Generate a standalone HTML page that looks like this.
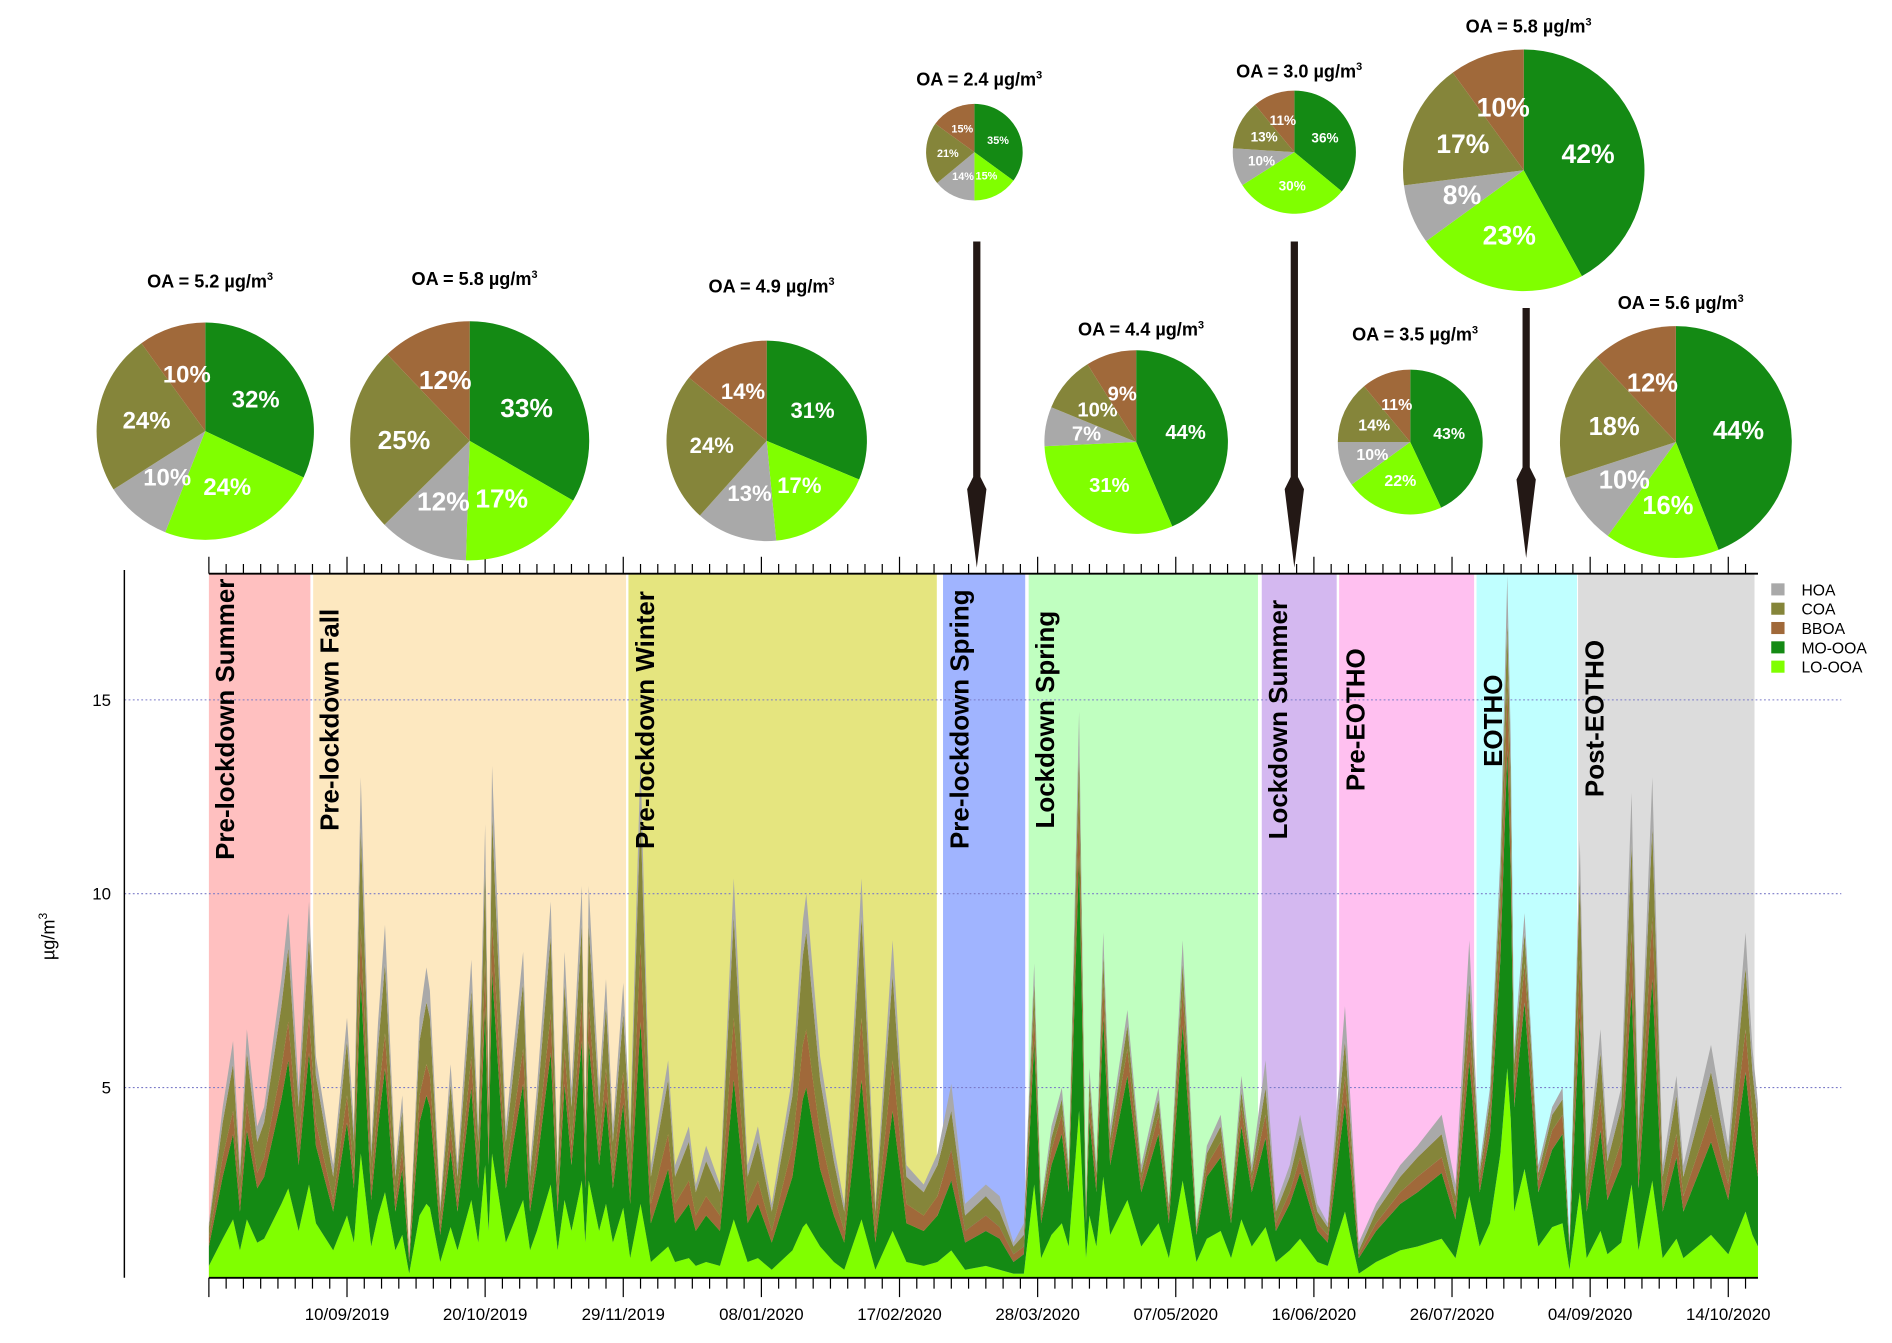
<!DOCTYPE html>
<html><head><meta charset="utf-8"><style>
html,body{margin:0;padding:0;background:#fff;}
svg{display:block;font-family:"Liberation Sans",Arial,sans-serif;}
</style></head><body>
<svg id="chart" width="1892" height="1343" viewBox="0 0 1567 1112" preserveAspectRatio="none" xmlns="http://www.w3.org/2000/svg">
<g id="bg"></g><g id="grid"></g><g id="areas"></g><g id="axes"></g><g id="plabels"></g><g id="pies"></g><g id="arrows"></g><g id="legend"></g>
</svg>
<script>
// ---- time series data (days since 01/08/2019) ----
const days=[0,4,7,9,11,14,16,21,23,26,29,31,36,40,42,44,47,49,51,54,56,58,61,63,64,67,70,72,76,78,80,81,82,86,91,93,95,99,101,103,105,108,109,110,113,115,117,120,
122,125,128,133,135,139,141,144,148,152,156,159,163,169,172,173,177,181,184,189,193,198,202,207,211,
215,219,225,229,233,236,
239,241,244,247,249,252,254,255,257,259,261,266,270,275,278,282,286,289,293,296,299,302,
306,309,313,316,321,324,329,333,338,345,350,357,361,365,
368,371,374,376,377,378,381,385,389,392,394,
397,399,403,405,409,412,414,418,421,425,427,435,440,445,447,449];
const loOOA=[.4,1.1,1.6,.8,1.6,1.0,1.1,2.0,2.4,1.3,2.5,1.5,.8,1.7,1.0,3.3,.9,1.7,2.3,.8,1.2,.2,1.7,2.0,1.9,.5,1.4,.8,2.1,1.0,3.0,1.3,3.3,1.0,2.1,.8,1.3,2.5,.8,2.1,1.3,2.6,1.0,2.6,1.3,2.0,1.0,1.9,
.6,2.0,.5,.9,.5,.6,.4,.5,.4,1.6,.5,.6,.3,.8,1.4,1.5,.9,.5,.3,1.6,.3,1.3,.5,.4,.5,
.8,.3,.4,.3,.2,.2,
2.5,.6,1.2,1.5,.9,4.4,.6,1.7,.9,2.7,1.2,2.1,.9,1.5,.6,2.6,.5,1.1,1.3,.6,1.6,.9,
1.4,.5,.8,1.1,.5,.4,1.8,.2,.5,.8,.9,1.1,.6,2.2,
.9,1.5,3.3,5.5,4.2,1.8,2.9,.9,1.4,1.5,.3,
2.3,.6,1.3,.7,1.0,2.5,.8,2.6,.6,1.1,.6,1.2,.7,1.8,1.2,.9];
const moOOA=[.5,1.6,2.2,1.0,2.3,1.4,1.6,2.7,3.3,1.7,3.4,2.0,1.0,2.4,1.4,4.5,1.2,2.3,3.2,1.0,1.7,.3,2.4,2.8,2.6,.7,2.0,1.0,2.9,1.4,4.1,1.7,4.7,1.4,3.0,1.0,1.7,3.4,1.0,3.0,1.7,3.6,1.4,3.6,1.7,2.7,1.4,2.7,
1.4,4.7,1.0,2.0,1.0,1.4,.9,1.2,.9,3.6,1.0,1.4,.7,1.9,3.3,3.5,2.0,1.2,.7,3.6,.7,3.1,1.0,.9,1.2,
1.8,.7,.9,.8,.3,.5,
3.7,.9,1.8,2.3,1.4,6.6,.9,2.5,1.4,4.1,1.8,3.2,1.4,2.3,.9,4.0,.7,1.6,1.9,.9,2.4,1.4,
2.3,.8,1.2,1.7,.8,.6,2.8,.4,.8,1.2,1.4,1.7,1.0,3.5,
1.4,2.3,5.0,8.2,6.3,2.7,4.3,1.4,2.0,2.3,.5,
4.6,1.2,2.6,1.4,2.0,5.0,1.6,5.2,1.2,2.1,1.2,2.4,1.4,3.6,2.4,1.8];
const bboa=[.2,.5,.6,.3,.7,.4,.5,.8,1.0,.5,1.0,.6,.3,.7,.4,1.3,.4,.7,.9,.3,.5,.1,.7,.8,.8,.2,.6,.3,.8,.4,1.2,.5,1.3,.4,.9,.3,.5,1.0,.3,.9,.5,1.0,.4,1.0,.5,.8,.4,.8,
.6,2.0,.5,.9,.5,.6,.4,.5,.4,1.6,.5,.6,.3,.8,1.4,1.5,.9,.5,.3,1.6,.3,1.3,.5,.4,.5,
.8,.3,.4,.3,.2,.2,
.8,.2,.4,.5,.3,1.5,.2,.6,.3,.9,.4,.7,.3,.5,.2,.9,.1,.3,.4,.2,.5,.3,
.6,.2,.3,.4,.2,.2,.7,.1,.2,.3,.4,.4,.3,.9,
.3,.5,1.1,1.8,1.4,.6,1.0,.3,.5,.5,.1,
1.4,.4,.8,.4,.6,1.5,.5,1.6,.4,.6,.4,.7,.4,1.1,.7,.6];
const coa=[.3,.9,1.2,.6,1.3,.8,.9,1.6,1.9,1.0,2.0,1.2,.6,1.4,.8,2.6,.7,1.3,1.8,.6,1.0,.1,1.4,1.6,1.5,.4,1.1,.6,1.7,.8,2.4,1.0,2.7,.8,1.7,.6,1.0,2.0,.6,1.7,1.0,2.0,.8,2.0,1.0,1.6,.8,1.5,
1.0,3.4,.7,1.4,.7,1.0,.6,.9,.6,2.6,.7,1.0,.5,1.3,2.3,2.5,1.4,.9,.5,2.6,.5,2.2,.7,.6,.8,
1.0,.4,.5,.4,.2,.3,
.7,.2,.3,.4,.2,1.2,.2,.4,.2,.7,.3,.6,.2,.4,.2,.7,.1,.3,.4,.2,.4,.2,
.7,.3,.4,.6,.3,.2,.9,.1,.3,.4,.5,.6,.3,1.1,
.2,.4,.9,1.5,1.1,.5,.8,.2,.4,.4,.1,
2.1,.5,1.2,.6,.9,2.3,.7,2.3,.5,1.0,.5,1.1,.6,1.6,1.1,.8];
const hoa=[.1,.4,.6,.3,.6,.4,.4,.7,.9,.5,.9,.5,.3,.6,.4,1.3,.3,.7,1.0,.3,.4,.1,.6,.9,.7,.2,.5,.3,.8,.4,1.1,.5,1.3,.4,.8,.3,.5,.9,.3,.8,.5,1.0,.4,1.0,.5,.7,.4,.8,
.4,1.4,.3,.5,.3,.4,.2,.4,.2,1.0,.3,.4,.2,.5,.9,1.0,.6,.4,.2,1.0,.2,.9,.3,.2,.3,
.7,.3,.3,.4,.1,.3,
.5,.1,.3,.3,.2,1.0,.1,.3,.2,.6,.3,.4,.2,.3,.1,.6,.1,.2,.3,.1,.4,.2,
.7,.2,.3,.5,.2,.1,.9,.2,.2,.3,.3,.5,.3,1.1,
.2,.3,.7,1.2,1.0,.4,.5,.2,.2,.3,.0,
1.0,.3,.6,.4,.5,1.3,.4,1.3,.3,.5,.3,.7,.4,.9,.6,.5];
const seriesNames=["LO-OOA","MO-OOA","BBOA","COA","HOA"];
const seriesColors=["#80ff00","#148a14","#a0693a","#85853a","#a9a9a9"];
const yTicks=[5,10,15];
const xTickLabels=["10/09/2019","20/10/2019","29/11/2019","08/01/2020","17/02/2020","28/03/2020","07/05/2020","16/06/2020","26/07/2020","04/09/2020","14/10/2020"];
const xTickDays=[40,80,120,160,200,240,280,320,360,400,440];
// ---- periods ----
const periodNames=["Pre-lockdown Summer","Pre-lockdown Fall","Pre-lockdown Winter","Pre-lockdown Spring","Lockdown Spring","Lockdown Summer","Pre-EOTHO","EOTHO","Post-EOTHO"];
const periodStart=[0,30.2,121.5,212.6,237.4,304.9,327.3,367.1,396.5];
const periodEnd=[29.4,120.8,210.8,236.4,303.8,326.6,366.4,396.2,447.6];
const periodColors=["#ffc0c0","#fde8c0","#e5e57f","#a0b4ff","#c0ffc0","#d4b8f0","#ffc0f0","#c0ffff","#dcdcdc"];
const periodLabelBottom=[712,688,703,703,686,695,655,635,660];
// ---- pies ----
const pieOA=["5.2","5.8","4.9","2.4","4.4","3.0","3.5","5.8","5.6"];
const pieMO=[32,33,31,35,44,36,43,42,44];
const pieLO=[24,17,17,15,31,30,22,23,16];
const pieHOA=[10,12,13,14,7,10,10,8,10];
const pieCOA=[24,25,24,21,10,13,14,17,18];
const pieBBOA=[10,12,14,15,9,11,11,10,12];

const NS="http://www.w3.org/2000/svg";
function mk(parent,tag,attrs,text){const e=document.createElementNS(NS,tag);for(const k in attrs)e.setAttribute(k,attrs[k]);if(text!==undefined)e.textContent=text;parent.appendChild(e);return e;}
const X0=173,X1=1456,PXD=2.86,Y0=1061,PXV=32.1;
const xs=d=>Math.min(X1,X0+PXD*d);
const ys=v=>Math.max(472,Y0-PXV*v);
const g=id=>document.getElementById(id);

// backgrounds
periodNames.forEach((n,i)=>{
 const r=mk(g('bg'),'rect',{x:xs(periodStart[i]),y:475,width:xs(periodEnd[i])-xs(periodStart[i]),height:1058-475,fill:periodColors[i]});
 
 
});
// grid
yTicks.forEach(v=>{
 const l=mk(g('grid'),'line',{x1:103,x2:1525,y1:ys(v),y2:ys(v),stroke:'#7a7ac8','stroke-width':0.9,'stroke-dasharray':'1.5,2'});
 
 
});
// stacked areas
const layers=[loOOA,moOOA,bboa,coa,hoa];
let lower=days.map(()=>0);
layers.forEach((arr,li)=>{
 const upper=lower.map((v,i)=>v+arr[i]);
 let pts=days.map((d,i)=>xs(d)+','+ys(upper[i]));
 for(let i=days.length-1;i>=0;i--)pts.push(xs(days[i])+','+Math.min(1058,ys(lower[i])));
 const p=mk(g('areas'),'polygon',{points:pts.join(' '),fill:seriesColors[li]});
 
 
 lower=upper;
});
// axes
const ax=g('axes');
mk(ax,'line',{x1:173,x2:1456,y1:475,y2:475,stroke:'#000','stroke-width':1.5});
mk(ax,'line',{x1:173,x2:1456,y1:1058,y2:1058,stroke:'#000','stroke-width':1.5});
mk(ax,'line',{x1:103,x2:103,y1:472,y2:1058,stroke:'#000','stroke-width':1.2});
for(let d=0;d<=448;d+=5){
 const major=(d%40===0);
 mk(ax,'line',{x1:xs(d),x2:xs(d),y1:475,y2:475-(major?14:8),stroke:'#000','stroke-width':1});
 mk(ax,'line',{x1:xs(d),x2:xs(d),y1:1058,y2:1058+(major?16:9),stroke:'#000','stroke-width':1});
}
xTickLabels.forEach((t,i)=>{
 const e=mk(ax,'text',{x:xs(xTickDays[i]),y:1093,'font-size':14,'text-anchor':'middle'},t);
 
 
});
yTicks.forEach(v=>{
 const e=mk(ax,'text',{x:92,y:ys(v)+5,'font-size':14,'text-anchor':'end'},String(v));
 
 
});
const yt=mk(ax,'text',{x:0,y:0,'font-size':15,transform:'translate(45,795) rotate(-90)'});
yt.innerHTML='µg/m<tspan dy="-6" font-size="10">3</tspan>';


// period labels
periodNames.forEach((n,i)=>{
 const cx=xs(periodStart[i])+14;
 const e=mk(g('plabels'),'text',{x:0,y:0,'font-size':21.5,'font-weight':'bold',transform:`translate(${cx+7},${periodLabelBottom[i]}) rotate(-90)`},n);
 
 
});
// pies
const pieCX=[170,389,635,807,941,1072,1168,1262,1388];
const pieCY=[357,365,365,126,366,126,366,141,366];
const pieR=[90,99,83,40,76,51,60,100,96];
const titleY=[238,236,242,71,278,64,282,27,256];
const pieSlices=[pieMO,pieLO,pieHOA,pieCOA,pieBBOA];
const pieCols=["#148a14","#80ff00","#a9a9a9","#85853a","#a0693a"];
const pieSliceNames=["mo-ooa","lo-ooa","hoa","coa","bboa"];
pieOA.forEach((oa,k)=>{
 const grp=mk(g('pies'),'g',{});
 
 
 const cx=pieCX[k],cy=pieCY[k],r=pieR[k];
 const vals=pieSlices.map(a=>a[k]);const tot=vals.reduce((a,b)=>a+b,0);
 let a0=-Math.PI/2;
 vals.forEach((v,j)=>{
  const a1=a0+v/tot*2*Math.PI;
  const large=(a1-a0)>Math.PI?1:0;
  const p=mk(grp,'path',{d:`M${cx},${cy} L${cx+r*Math.cos(a0)},${cy+r*Math.sin(a0)} A${r},${r} 0 ${large} 1 ${cx+r*Math.cos(a1)},${cy+r*Math.sin(a1)} Z`,fill:pieCols[j]});
  
  
  const am=(a0+a1)/2,fs=Math.max(9,r*0.22);
  const t=mk(grp,'text',{x:cx+r*0.55*Math.cos(am),y:cy+r*0.55*Math.sin(am)+fs*0.35,'font-size':fs,'font-weight':'bold',fill:'#fff','text-anchor':'middle'},v+'%');
  
  
  a0=a1;
 });
 const tt=mk(grp,'text',{x:cx+4,y:titleY[k],'font-size':15,'font-weight':'bold','text-anchor':'middle'});
 tt.innerHTML='OA = '+oa+' µg/m<tspan dy="-6" font-size="9">3</tspan>';
 
 
});
// arrows
[[809,200,470],[1072,200,470],[1264,255,462]].forEach(a=>{
 const [x,y1,y2]=a;
 const e=mk(g('arrows'),'path',{d:`M${x-3},${y1} L${x+3},${y1} L${x+3},${y2-75} L${x+8},${y2-65} L${x},${y2} L${x-8},${y2-65} L${x-3},${y2-75} Z`,fill:'#231815'});
 
 
});
// legend
const legOrder=[4,3,2,1,0];
legOrder.forEach((si,i)=>{
 const y=488+i*16;
 const r=mk(g('legend'),'rect',{x:1467,y:y-5,width:11,height:10,fill:seriesColors[si]});
 
 
 const t=mk(g('legend'),'text',{x:1492,y:y+5,'font-size':13},seriesNames[si]);
 
 
});
</script>
</body></html>
